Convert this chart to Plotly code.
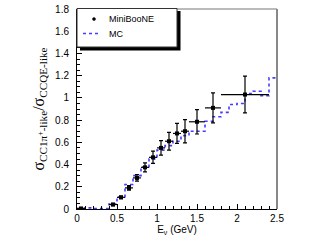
import plotly.graph_objects as go

# ---- data ----
data_e = [0.05, 0.45, 0.55, 0.65, 0.75, 0.85, 0.95, 1.05, 1.15, 1.25, 1.35, 1.5, 1.7, 2.1]
data_ratio = [0.005, 0.04, 0.105, 0.19, 0.28, 0.375, 0.465, 0.55, 0.61, 0.68, 0.70, 0.785, 0.91, 1.03]
data_xerr = [0.05, 0.05, 0.05, 0.05, 0.05, 0.05, 0.05, 0.05, 0.05, 0.05, 0.05, 0.1, 0.1, 0.3]
data_yerr = [0.003, 0.01, 0.012, 0.02, 0.03, 0.04, 0.055, 0.065, 0.08, 0.09, 0.105, 0.11, 0.135, 0.165]

mc_edges = [0.0, 0.1, 0.2, 0.3, 0.4, 0.5, 0.6, 0.7, 0.8, 0.9, 1.0, 1.1, 1.2, 1.3,
            1.4, 1.5, 1.6, 1.7, 1.8, 1.9, 2.0, 2.1, 2.2, 2.3, 2.4, 2.5]
mc_ratio = [0.005, 0.01, 0.005, 0.005, 0.045, 0.11, 0.22, 0.30, 0.38, 0.45, 0.53, 0.57,
            0.61, 0.66, 0.70, 0.70, 0.79, 0.83, 0.87, 0.94, 0.95, 1.04, 1.06, 1.02, 1.18]

x_ticks = [0, 0.5, 1, 1.5, 2, 2.5]
x_ticklabels = ["0", "0.5", "1", "1.5", "2", "2.5"]
y_ticks = [0, 0.2, 0.4, 0.6, 0.8, 1.0, 1.2, 1.4, 1.6, 1.8]
y_ticklabels = ["0", "0.2", "0.4", "0.6", "0.8", "1", "1.2", "1.4", "1.6", "1.8"]

legend_labels = ["MiniBooNE", "MC"]

# ---- layout geometry (pixels) ----
W, H = 323, 242
ML, MR, MT, MB = 77, 46, 9, 33
PW, PH = W - ML - MR, H - MT - MB

def px(xp):
    return (xp - ML) / PW

def py(yp):
    return (H - MB - yp) / PH

MC_COLOR = "rgb(70,60,255)"

fig = go.Figure()

fig.add_trace(go.Scatter(
    x=mc_edges, y=mc_ratio + [mc_ratio[-1]],
    mode="lines", line=dict(shape="hv", color=MC_COLOR, width=1.6, dash="dot"),
    showlegend=False, hoverinfo="skip"))

fig.add_trace(go.Scatter(
    x=data_e, y=data_ratio, mode="markers",
    marker=dict(color="black", size=4, symbol="square"),
    error_x=dict(type="data", array=data_xerr, color="black", thickness=1.2, width=0),
    error_y=dict(type="data", array=data_yerr, color="black", thickness=1.2, width=2),
    showlegend=False))

shapes = []
# frame: top thin gray, right thicker gray
shapes.append(dict(type="line", xref="paper", yref="paper", x0=0, x1=1, y0=1, y1=1,
                   line=dict(color="#777", width=1)))
shapes.append(dict(type="line", xref="paper", yref="paper", x0=1, x1=1, y0=0, y1=1,
                   line=dict(color="#888", width=2)))
# legend shadow and box
shapes.append(dict(type="rect", xref="paper", yref="paper",
                   x0=px(80), x1=px(180.5), y0=py(50.5), y1=py(11),
                   fillcolor="black", line=dict(width=0), layer="above"))
shapes.append(dict(type="rect", xref="paper", yref="paper",
                   x0=px(77), x1=px(177), y0=py(47), y1=py(8.5),
                   fillcolor="white", line=dict(color="#333", width=1), layer="above"))
# legend glyphs
shapes.append(dict(type="line", xref="paper", yref="paper",
                   x0=px(83), x1=px(100), y0=py(33.5), y1=py(33.5),
                   line=dict(color=MC_COLOR, width=1.6, dash="dot"), layer="above"))
shapes.append(dict(type="circle", xref="paper", yref="paper",
                   x0=px(92.5), x1=px(95.5), y0=py(20.5), y1=py(17.5),
                   fillcolor="black", line=dict(color="black", width=0.5), layer="above"))

annotations = [
    dict(text=legend_labels[0], xref="paper", yref="paper", x=px(107), y=py(19),
         xanchor="left", yanchor="middle", showarrow=False,
         font=dict(family="Liberation Sans, Arial", size=9, color="black")),
    dict(text=legend_labels[1], xref="paper", yref="paper", x=px(107), y=py(33.5),
         xanchor="left", yanchor="middle", showarrow=False,
         font=dict(family="Liberation Sans, Arial", size=9, color="black")),
]

fig.update_layout(
    width=W, height=H,
    margin=dict(l=ML, r=MR, t=MT, b=MB, pad=0, autoexpand=False),
    paper_bgcolor="white", plot_bgcolor="white",
    shapes=shapes, annotations=annotations,
    showlegend=False,
    xaxis=dict(range=[0, 2.5], tickvals=x_ticks, ticktext=x_ticklabels, automargin=False,
               ticks="inside", ticklen=5, tickcolor="black", tickwidth=1,
               minor=dict(dtick=0.1, ticks="inside", ticklen=3, tickcolor="black"),
               showgrid=False, zeroline=False, showline=True, linecolor="black", linewidth=1,
               tickfont=dict(family="Liberation Sans, Arial", size=10, color="black"),
               title=dict(text="E<sub>ν</sub> (GeV)", standoff=0,
                          font=dict(family="Liberation Sans, Arial", size=10, color="black"))),
    yaxis=dict(range=[0, 1.8], tickvals=y_ticks, ticktext=y_ticklabels, automargin=False,
               ticks="inside", ticklen=5, tickcolor="black", tickwidth=1,
               minor=dict(dtick=0.05, ticks="inside", ticklen=3, tickcolor="black"),
               showgrid=False, zeroline=False, showline=True, linecolor="black", linewidth=1,
               ticklabelstandoff=5,
               tickfont=dict(family="Liberation Sans, Arial", size=10, color="black"),
               title=dict(text="σ<sub>CC1π<sup>+</sup>-like</sub>/σ<sub>CCQE-like</sub>", standoff=6,
                          font=dict(family="Liberation Serif, Times New Roman", size=16, color="black"))),
)

fig.write_html("out.html", config={"displayModeBar": False, "staticPlot": True},
               post_script="document.body.style.margin='0px';document.body.style.overflow='hidden';")
